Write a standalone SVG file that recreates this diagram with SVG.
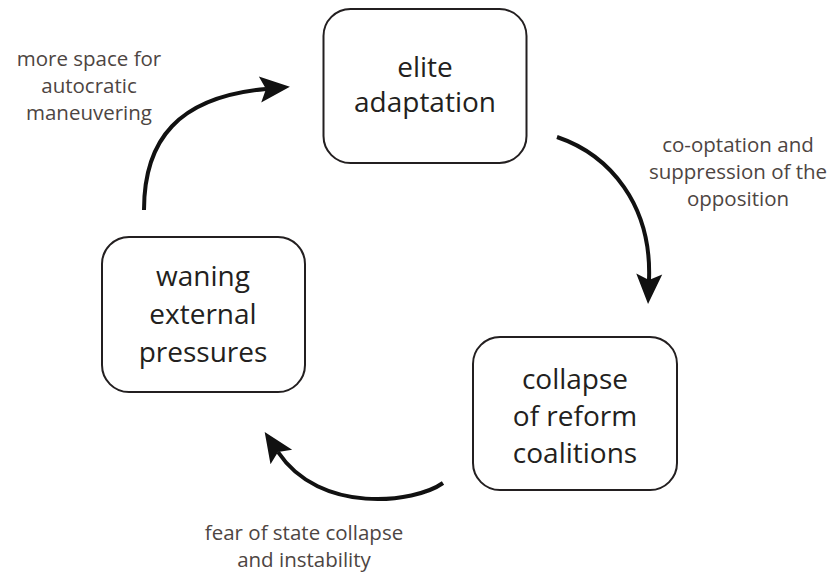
<svg xmlns="http://www.w3.org/2000/svg" width="835" height="575" viewBox="0 0 835 575">
  <style>
    .box { fill: #ffffff; stroke: #231f20; stroke-width: 2; }
    .ntext { font-family: "Open Sans", "Liberation Sans", sans-serif; font-size: 28px; fill: #231f20; text-anchor: middle; }
    .ltext { font-family: "Open Sans", "Liberation Sans", sans-serif; font-size: 20.5px; fill: #4d4542; text-anchor: middle; }
    .conn { fill: none; stroke: #111111; stroke-width: 4; }
  </style>
  <defs>
    <marker id="ah" markerUnits="userSpaceOnUse" viewBox="-8 -15 34 30" markerWidth="34" markerHeight="30" refX="0" refY="0" orient="auto" overflow="visible">
      <path d="M24,0 L-6,-13 L0,0 L-6,13 Z" fill="#111111"/>
    </marker>
  </defs>
  <rect width="835" height="575" fill="#ffffff"/>

  <g id="connectors">
    <path class="conn" d="M144,210 C144,140 178,97 266,89" marker-end="url(#ah)"/>
    <path class="conn" d="M557,137 C610,155 652,205 649,280" marker-end="url(#ah)"/>
    <path class="conn" d="M443,483 C415,503 320,515 278,452" marker-end="url(#ah)"/>
  </g>

  <g id="node-elite">
    <rect class="box" x="323.5" y="9" width="203" height="154" rx="27"/>
    <text class="ntext" x="425" y="77">elite</text>
    <text class="ntext" x="425" y="112">adaptation</text>
  </g>

  <g id="node-collapse">
    <rect class="box" x="473" y="337" width="204" height="153" rx="27"/>
    <text class="ntext" x="575" y="389">collapse</text>
    <text class="ntext" x="575" y="426">of reform</text>
    <text class="ntext" x="575" y="463">coalitions</text>
  </g>

  <g id="node-waning">
    <rect class="box" x="102" y="237" width="203" height="155" rx="27"/>
    <text class="ntext" x="203" y="286">waning</text>
    <text class="ntext" x="203" y="324">external</text>
    <text class="ntext" x="203" y="362">pressures</text>
  </g>

  <g id="labels">
    <text class="ltext" x="89" y="66">more space for</text>
    <text class="ltext" x="89" y="93">autocratic</text>
    <text class="ltext" x="89" y="120">maneuvering</text>

    <text class="ltext" x="738" y="152">co-optation and</text>
    <text class="ltext" x="738" y="179">suppression of the</text>
    <text class="ltext" x="738" y="206">opposition</text>

    <text class="ltext" x="304" y="540">fear of state collapse</text>
    <text class="ltext" x="304" y="567">and instability</text>
  </g>
</svg>
